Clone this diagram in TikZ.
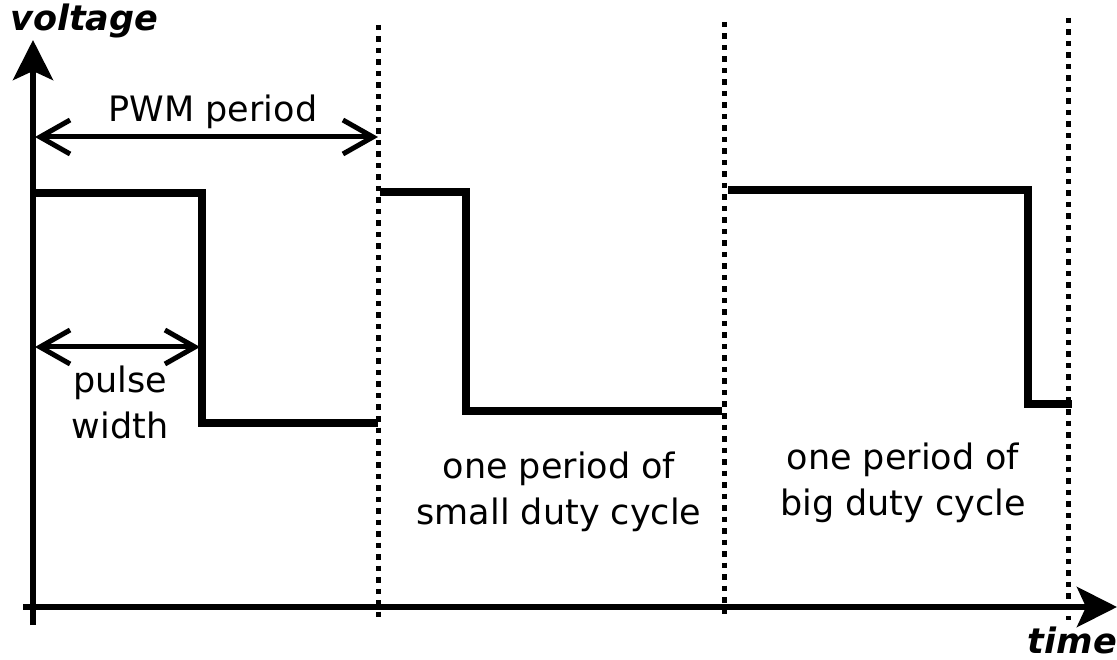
\documentclass[tikz,border=0pt]{standalone}
\usepackage{fontspec}
\setmainfont{DejaVu Sans}
\usetikzlibrary{arrows.meta}
\begin{document}
\begin{tikzpicture}[x=1pt,y=-1pt,
  axis/.style={line width=6pt, -{Stealth[length=40pt,width=40pt,inset=9pt]}},
  signal/.style={line width=7.5pt, line join=miter},
  marker/.style={line width=5pt, dash pattern=on 5.5pt off 6pt},
  dim/.style={line width=5pt, {Straight Barb[length=30pt,width=34pt]}-{Straight Barb[length=30pt,width=34pt]}},
  lbl/.style={font=\fontsize{35}{43}\selectfont, inner sep=0pt},
  axlbl/.style={font=\fontsize{35}{43}\selectfont\bfseries\itshape, inner sep=0pt}]
\useasboundingbox (0,0) rectangle (1117,660);

% axes
\coordinate (ybot) at (33,625);
\coordinate (ytop) at (33,40);
\coordinate (xleft) at (23,607);
\coordinate (xright) at (1117,607);
\draw[axis] (ybot) -- (ytop);
\draw[axis] (xleft) -- (xright);
\node[axlbl, anchor=base west] (vlab) at (10,31) {voltage};
\node[axlbl, anchor=base east] (tlab) at (1117,653) {time};

% period boundaries
\coordinate (m1t) at (378,25);  \coordinate (m1b) at (378,618);
\coordinate (m2t) at (724,22);  \coordinate (m2b) at (724,614);
\coordinate (m3t) at (1068,18); \coordinate (m3b) at (1068,620);
\draw[marker] (m1t) -- (m1b);
\draw[marker] (m2t) -- (m2b);
\draw[marker] (m3t) -- (m3b);

% PWM signal
\draw[signal] (33,193) -- (202,193) -- (202,423) -- (378,423);
\draw[signal] (380,192) -- (466,192) -- (466,411) -- (722,411);
\draw[signal] (728,190) -- (1028,190) -- (1028,404) -- (1072,404);

% dimension arrows
\coordinate (pa) at (35,137);
\coordinate (pb) at (378,137);
\draw[dim] (pa) -- (pb);
\coordinate (wa) at (35,347);
\coordinate (wb) at (200,347);
\draw[dim] (wa) -- (wb);

% labels
\node[lbl, anchor=base] (pwm) at (213,122) {PWM period};
\node[lbl, anchor=base] (pw1) at (120,392) {pulse};
\node[lbl, anchor=base] (pw2) at (120,438) {width};
\node[lbl, anchor=base] (sd1) at (559,478) {one period of};
\node[lbl, anchor=base] (sd2) at (559,524) {small duty cycle};
\node[lbl, anchor=base] (bd1) at (903,469) {one period of};
\node[lbl, anchor=base] (bd2) at (903,515) {big duty cycle};
\end{tikzpicture}
\end{document}
